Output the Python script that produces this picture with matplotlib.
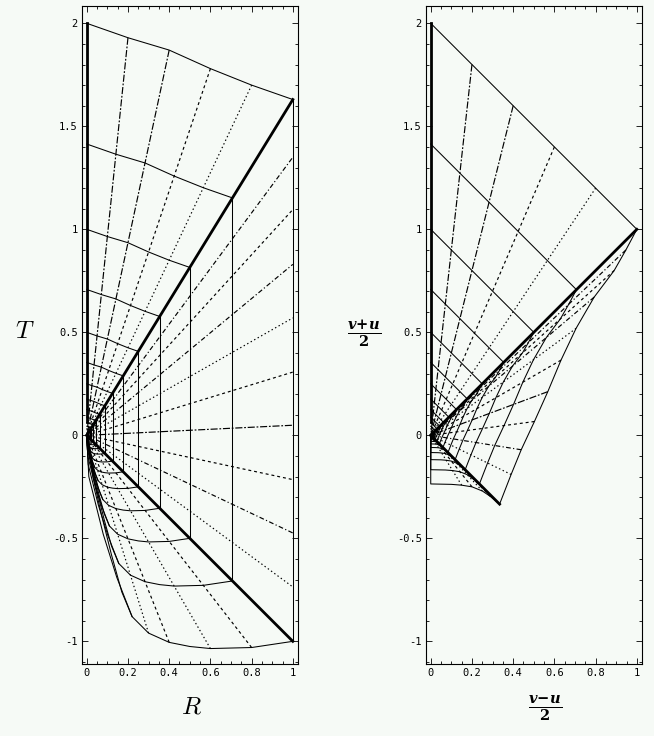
import numpy as np
import matplotlib
matplotlib.use("Agg")
import matplotlib.pyplot as plt
from matplotlib.ticker import MultipleLocator

BG = "#f6faf6"

# scale factors of the self-similar copies (R of the vertical lines)
scales = [1.0, 0.707, 0.5, 0.354, 0.25, 0.177, 0.125, 0.088, 0.0625,
          0.044, 0.031, 0.022, 0.0156]

# ---- left panel (R, T) ----
# upper family: curve from T=2 on the axis to the upper edge of the wedge
top_R = [0.0, 0.2, 0.4, 0.6, 0.8, 1.0]
top_T = [2.0, 1.93, 1.87, 1.78, 1.70, 1.63]
top_nodes = [1, 2, 3, 4]
axis_T = [0.065, 2.0]

# wedge between the two thick lines
wedge_hi = 1.63
wedge_lo = -1.0
wedge_T = [1.35, 1.096, 0.83, 0.57, 0.307, 0.049, -0.215, -0.474, -0.736]

# lower family: arc from (1,-1) back to the origin
low_R = [1.0, 0.8, 0.6, 0.5, 0.4, 0.3, 0.22, 0.17, 0.12, 0.07, 0.03, 0.0]
low_T = [-1.0, -1.03, -1.035, -1.025, -1.005, -0.96, -0.88, -0.76, -0.58,
         -0.38, -0.2, 0.0]
low_nodes = [1, 2, 4, 5]
inner_R = [0.22, 0.146, 0.08, 0.01, 0.0]
inner_T = [-0.88, -0.69, -0.48, -0.2, 0.0]

# ---- right panel ((v-u)/2, (v+u)/2) ----
rtop_x = [0.0, 0.2, 0.4, 0.6, 0.8, 1.0]
rtop_y = [2.0, 1.8, 1.6, 1.4, 1.2, 1.0]
rout_x = [1.0, 0.947, 0.89, 0.793, 0.705, 0.632, 0.568, 0.503, 0.439, 0.39, 0.334]
rout_y = [1.0, 0.9, 0.8, 0.671, 0.519, 0.365, 0.212, 0.067, -0.07, -0.19, -0.334]
rout_nodes = [1, 2, 3, 4, 5, 6, 7, 8, 9]
rlow_x = [0.334, 0.29, 0.25, 0.2, 0.15, 0.1, 0.0, 0.0]
rlow_y = [-0.334, -0.297, -0.27, -0.25, -0.242, -0.238, -0.236, 0.0]
rlow_nodes = [1, 2, 3, 4]

dash_a = (0, (6, 1.5, 1.5, 1.5))
dash_b = (0, (4, 2, 1, 2))
dash_c = (0, (2.5, 2.5))
dash_d = (0, (1.2, 2.2))
top_styles = [dash_a, dash_a, dash_c, dash_d]
wedge_styles = [dash_b, dash_c, dash_b, dash_d, dash_c, dash_a, dash_c, dash_b, dash_d]
low_styles = [dash_c, dash_d, dash_c, dash_d]

THIN = 0.75
DASH = 0.85
THICK = 2.0


def family(ax, xs, ys, nodes, styles):
    xs = np.array(xs)
    ys = np.array(ys)
    for s in scales:
        ax.plot(s * xs, s * ys, color="k", lw=THIN, solid_joinstyle="round")
    for j, st in zip(nodes, styles):
        px = [s * xs[j] for s in scales] + [0.0]
        py = [s * ys[j] for s in scales] + [0.0]
        ax.plot(px, py, color="k", lw=DASH, linestyle=st)


def frame(ax):
    ax.set_facecolor(BG)
    ax.set_xlim(-0.023, 1.025)
    ax.set_ylim(-1.11, 2.084)
    ax.xaxis.set_major_locator(MultipleLocator(0.2))
    ax.xaxis.set_minor_locator(MultipleLocator(0.05))
    ax.yaxis.set_major_locator(MultipleLocator(0.5))
    ax.yaxis.set_minor_locator(MultipleLocator(0.1))
    ax.tick_params(which="both", direction="in", top=True, right=True,
                   labelsize=7.5, pad=3, width=0.6)
    ax.tick_params(which="major", length=4)
    ax.tick_params(which="minor", length=2)
    fmt = lambda v, p: ("%g" % round(v, 2))
    ax.xaxis.set_major_formatter(plt.FuncFormatter(fmt))
    ax.yaxis.set_major_formatter(plt.FuncFormatter(fmt))
    for lab in ax.get_xticklabels() + ax.get_yticklabels():
        lab.set_family("DejaVu Sans Mono")
    for sp in ax.spines.values():
        sp.set_linewidth(0.8)


fig = plt.figure(figsize=(6.54, 7.36), dpi=100, facecolor=BG)
axL = fig.add_axes([82 / 654, 72 / 736, 216 / 654, 658 / 736])
axR = fig.add_axes([426 / 654, 72 / 736, 216 / 654, 658 / 736])

# left panel
family(axL, top_R, top_T, top_nodes, top_styles)
for s in scales:
    axL.plot([s, s], [wedge_lo * s, wedge_hi * s], color="k", lw=THIN)
for t, st in zip(wedge_T, wedge_styles):
    axL.plot([0, 1], [0, t], color="k", lw=DASH, linestyle=st)
family(axL, low_R, low_T, low_nodes, low_styles)
for s in scales:
    axL.plot(s * np.array(inner_R), s * np.array(inner_T), color="k", lw=THIN)
axL.plot([0, 0], axis_T, color="k", lw=THICK)
axL.plot([0, 1], [0, wedge_hi], color="k", lw=THICK)
axL.plot([0, 1], [0, wedge_lo], color="k", lw=THICK)

# right panel
family(axR, rtop_x, rtop_y, top_nodes, top_styles)
family(axR, rout_x, rout_y, rout_nodes, wedge_styles)
family(axR, rlow_x, rlow_y, rlow_nodes, low_styles)
axR.plot([0, 0], axis_T, color="k", lw=THICK)
axR.plot([0, rout_x[0]], [0, rout_y[0]], color="k", lw=THICK)
axR.plot([0, rout_x[-1]], [0, rout_y[-1]], color="k", lw=THICK)

frame(axL)
frame(axR)

fig.text(25 / 654, 1 - 331 / 736, r"$T$", fontsize=18, ha="center",
         va="center", math_fontfamily="cm")
fig.text(191 / 654, 1 - 707 / 736, r"$R$", fontsize=18, ha="center",
         va="center", math_fontfamily="cm")
fig.text(364 / 654, 1 - 334 / 736, r"$\frac{\mathbfit{v\!+\!u}}{\mathbf{2}}$",
         fontsize=15, ha="center", va="center", math_fontfamily="dejavuserif")
fig.text(545 / 654, 1 - 708 / 736, r"$\frac{\mathbfit{v\!-\!u}}{\mathbf{2}}$",
         fontsize=15, ha="center", va="center", math_fontfamily="dejavuserif")

fig.savefig("out.png", dpi=100, facecolor=BG)
